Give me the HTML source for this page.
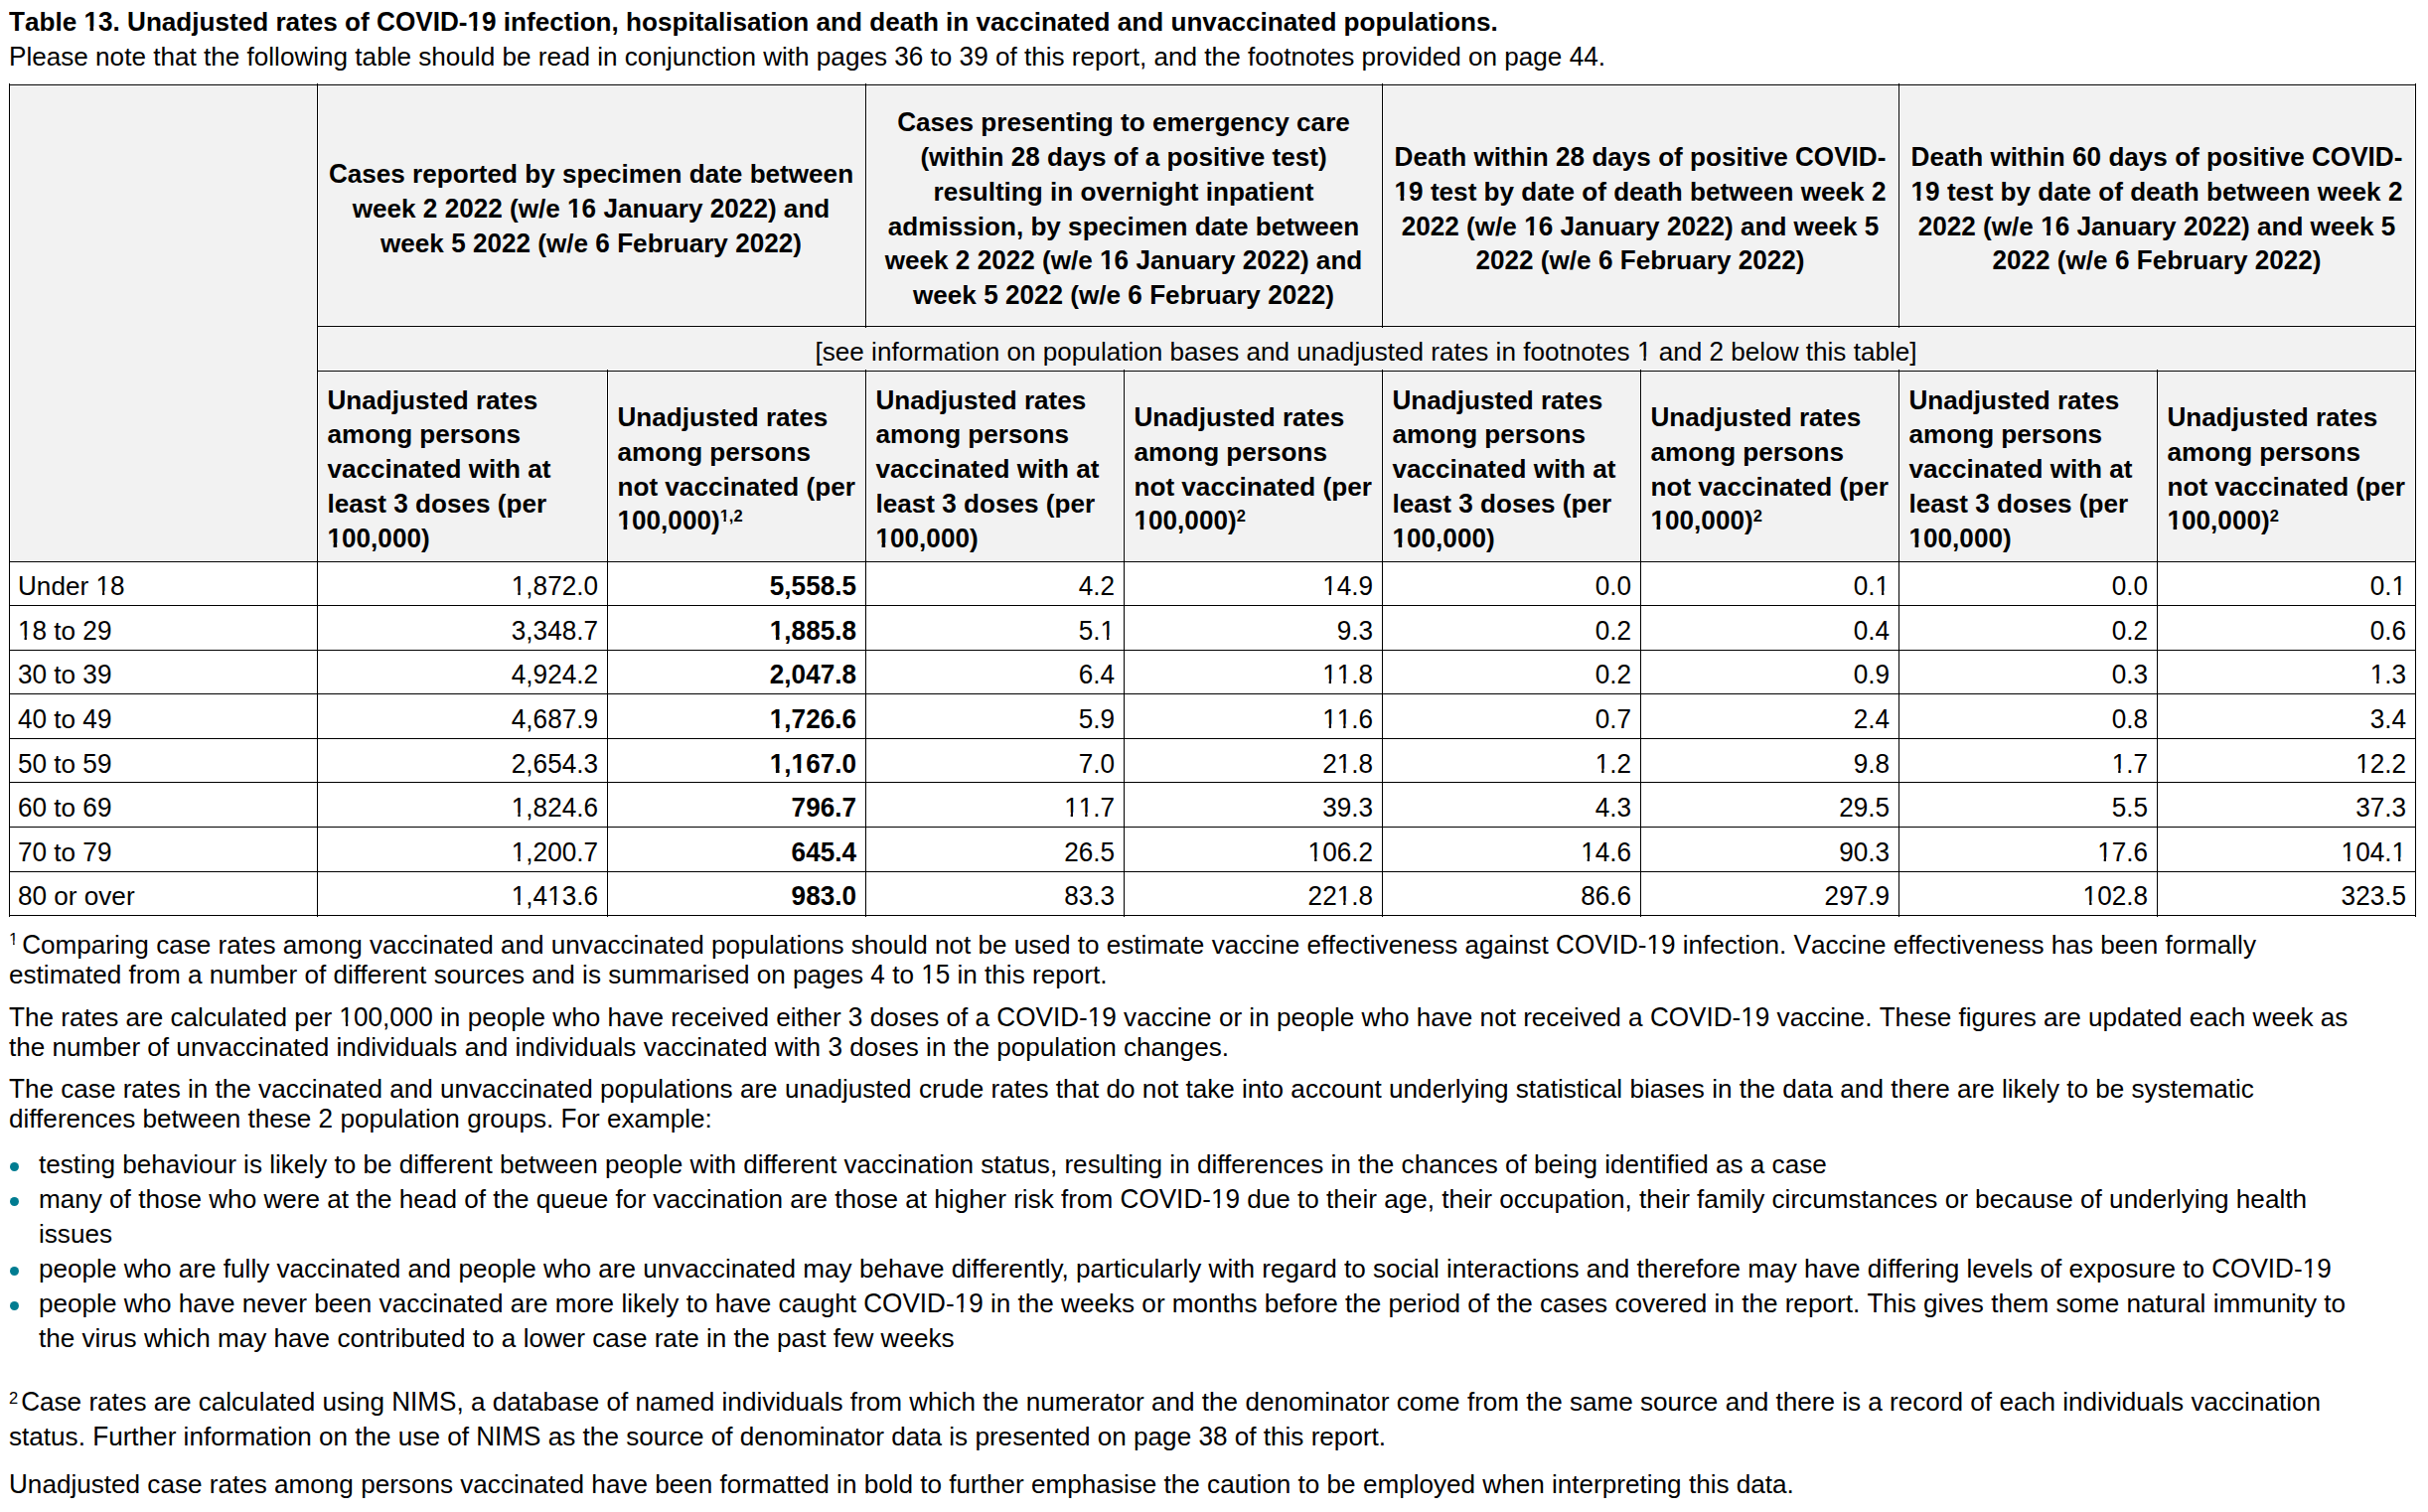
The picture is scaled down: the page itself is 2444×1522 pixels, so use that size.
<!DOCTYPE html>
<html><head><meta charset="utf-8"><title>Table 13</title><style>
html,body{margin:0;padding:0;background:#fff;overflow:hidden}
#p{position:relative;width:2444px;height:1522px;overflow:hidden;background:#fff}
.k{position:absolute;background:#000}
.g{position:absolute;background:#f2f2f2}
.t{position:absolute;font-family:"Liberation Sans",sans-serif;font-size:26.12px;line-height:30px;white-space:pre;color:#000}
.b{font-weight:bold}
.c{text-align:center}
.sp{font-size:16.5px;font-weight:bold;position:relative;top:-8px}
.fs{font-size:16.5px;position:relative;top:-9px;display:inline-block;width:13.2px}
.fs2{width:12.2px;top:-7px}
.u{display:inline-block;transform:scaleY(1.0405);transform-origin:0 calc(15px + 0.3465em)}
.o{clip-path:polygon(-0.2em -5px,1em -5px,1em calc(15px + 0.1915em),0.34em calc(15px + 0.1915em),0.34em 40px,0.251em 40px,0.251em calc(15px + 0.1915em),-0.2em calc(15px + 0.1915em))}
.b .o{clip-path:polygon(-0.2em -5px,1em -5px,1em calc(15px + 0.1815em),0.371em calc(15px + 0.1815em),0.371em 40px,0.233em 40px,0.233em calc(15px + 0.1815em),-0.2em calc(15px + 0.1815em))}
.fs .o{clip-path:polygon(-0.2em -5px,1em -5px,1em 17px,0.34em 17px,0.34em 40px,0.251em 40px,0.251em 17px,-0.2em 17px)}
.sp .o{clip-path:polygon(-0.2em -5px,1em -5px,1em 17px,0.371em 17px,0.371em 40px,0.233em 40px,0.233em 17px,-0.2em 17px)}
.dot{position:absolute;width:9.4px;height:9.4px;border-radius:50%;background:#007c91}
</style></head>
<body><div id="p">
<div class="t b" style="left:9px;top:7px"><span class="u">T</span>able <span class="u o">1</span><span class="u">3</span>. <span class="u">U</span>nadjusted rates of <span class="u">C</span><span class="u">O</span><span class="u">V</span><span class="u">I</span><span class="u">D</span>-<span class="u o">1</span><span class="u">9</span> infection, hospitalisation and death in vaccinated and unvaccinated populations.</div>
<div class="t n" style="left:9px;top:42px"><span class="u">P</span>lease note that the following table should be read in conjunction with pages <span class="u">3</span><span class="u">6</span> to <span class="u">3</span><span class="u">9</span> of this report, and the footnotes provided on page <span class="u">4</span><span class="u">4</span>.</div>
<div class="g" style="left:11px;top:87px;width:307px;height:477px"></div>
<div class="g" style="left:321px;top:87px;width:549px;height:240px"></div>
<div class="g" style="left:873px;top:87px;width:517px;height:240px"></div>
<div class="g" style="left:1393px;top:87px;width:517px;height:240px"></div>
<div class="g" style="left:1913px;top:87px;width:517px;height:240px"></div>
<div class="g" style="left:321px;top:330px;width:2109px;height:42px"></div>
<div class="g" style="left:321px;top:375px;width:289px;height:189px"></div>
<div class="g" style="left:613px;top:375px;width:257px;height:189px"></div>
<div class="g" style="left:873px;top:375px;width:257px;height:189px"></div>
<div class="g" style="left:1133px;top:375px;width:257px;height:189px"></div>
<div class="g" style="left:1393px;top:375px;width:257px;height:189px"></div>
<div class="g" style="left:1653px;top:375px;width:257px;height:189px"></div>
<div class="g" style="left:1913px;top:375px;width:257px;height:189px"></div>
<div class="g" style="left:2173px;top:375px;width:257px;height:189px"></div>
<div class="k" style="left:9px;top:85px;width:2423px;height:1px"></div>
<div class="k" style="left:319px;top:328px;width:2113px;height:1px"></div>
<div class="k" style="left:319px;top:373px;width:2113px;height:1px"></div>
<div class="k" style="left:9px;top:565px;width:2423px;height:1px"></div>
<div class="k" style="left:9px;top:609px;width:2423px;height:1px"></div>
<div class="k" style="left:9px;top:654px;width:2423px;height:1px"></div>
<div class="k" style="left:9px;top:698px;width:2423px;height:1px"></div>
<div class="k" style="left:9px;top:743px;width:2423px;height:1px"></div>
<div class="k" style="left:9px;top:787px;width:2423px;height:1px"></div>
<div class="k" style="left:9px;top:832px;width:2423px;height:1px"></div>
<div class="k" style="left:9px;top:877px;width:2423px;height:1px"></div>
<div class="k" style="left:9px;top:921px;width:2423px;height:1px"></div>
<div class="k" style="left:9px;top:84px;width:1px;height:839px"></div>
<div class="k" style="left:319px;top:84px;width:1px;height:839px"></div>
<div class="k" style="left:2431px;top:84px;width:1px;height:839px"></div>
<div class="k" style="left:871px;top:84px;width:1px;height:246px"></div>
<div class="k" style="left:1391px;top:84px;width:1px;height:246px"></div>
<div class="k" style="left:1911px;top:84px;width:1px;height:246px"></div>
<div class="k" style="left:611px;top:372px;width:1px;height:551px"></div>
<div class="k" style="left:871px;top:372px;width:1px;height:551px"></div>
<div class="k" style="left:1131px;top:372px;width:1px;height:551px"></div>
<div class="k" style="left:1391px;top:372px;width:1px;height:551px"></div>
<div class="k" style="left:1651px;top:372px;width:1px;height:551px"></div>
<div class="k" style="left:1911px;top:372px;width:1px;height:551px"></div>
<div class="k" style="left:2171px;top:372px;width:1px;height:551px"></div>
<div class="t b c" style="left:319px;top:160px;width:552px"><span class="u">C</span>ases reported by specimen date between</div>
<div class="t b c" style="left:319px;top:195px;width:552px">week <span class="u">2</span> <span class="u">2</span><span class="u">0</span><span class="u">2</span><span class="u">2</span> (w/e <span class="u o">1</span><span class="u">6</span> <span class="u">J</span>anuary <span class="u">2</span><span class="u">0</span><span class="u">2</span><span class="u">2</span>) and</div>
<div class="t b c" style="left:319px;top:230px;width:552px">week <span class="u">5</span> <span class="u">2</span><span class="u">0</span><span class="u">2</span><span class="u">2</span> (w/e <span class="u">6</span> <span class="u">F</span>ebruary <span class="u">2</span><span class="u">0</span><span class="u">2</span><span class="u">2</span>)</div>
<div class="t b c" style="left:871px;top:108px;width:520px"><span class="u">C</span>ases presenting to emergency care</div>
<div class="t b c" style="left:871px;top:143px;width:520px">(within <span class="u">2</span><span class="u">8</span> days of a positive test)</div>
<div class="t b c" style="left:871px;top:178px;width:520px">resulting in overnight inpatient</div>
<div class="t b c" style="left:871px;top:213px;width:520px">admission, by specimen date between</div>
<div class="t b c" style="left:871px;top:247px;width:520px">week <span class="u">2</span> <span class="u">2</span><span class="u">0</span><span class="u">2</span><span class="u">2</span> (w/e <span class="u o">1</span><span class="u">6</span> <span class="u">J</span>anuary <span class="u">2</span><span class="u">0</span><span class="u">2</span><span class="u">2</span>) and</div>
<div class="t b c" style="left:871px;top:282px;width:520px">week <span class="u">5</span> <span class="u">2</span><span class="u">0</span><span class="u">2</span><span class="u">2</span> (w/e <span class="u">6</span> <span class="u">F</span>ebruary <span class="u">2</span><span class="u">0</span><span class="u">2</span><span class="u">2</span>)</div>
<div class="t b c" style="left:1391px;top:143px;width:520px"><span class="u">D</span>eath within <span class="u">2</span><span class="u">8</span> days of positive <span class="u">C</span><span class="u">O</span><span class="u">V</span><span class="u">I</span><span class="u">D</span>-</div>
<div class="t b c" style="left:1391px;top:178px;width:520px"><span class="u o">1</span><span class="u">9</span> test by date of death between week <span class="u">2</span></div>
<div class="t b c" style="left:1391px;top:213px;width:520px"><span class="u">2</span><span class="u">0</span><span class="u">2</span><span class="u">2</span> (w/e <span class="u o">1</span><span class="u">6</span> <span class="u">J</span>anuary <span class="u">2</span><span class="u">0</span><span class="u">2</span><span class="u">2</span>) and week <span class="u">5</span></div>
<div class="t b c" style="left:1391px;top:247px;width:520px"><span class="u">2</span><span class="u">0</span><span class="u">2</span><span class="u">2</span> (w/e <span class="u">6</span> <span class="u">F</span>ebruary <span class="u">2</span><span class="u">0</span><span class="u">2</span><span class="u">2</span>)</div>
<div class="t b c" style="left:1911px;top:143px;width:520px"><span class="u">D</span>eath within <span class="u">6</span><span class="u">0</span> days of positive <span class="u">C</span><span class="u">O</span><span class="u">V</span><span class="u">I</span><span class="u">D</span>-</div>
<div class="t b c" style="left:1911px;top:178px;width:520px"><span class="u o">1</span><span class="u">9</span> test by date of death between week <span class="u">2</span></div>
<div class="t b c" style="left:1911px;top:213px;width:520px"><span class="u">2</span><span class="u">0</span><span class="u">2</span><span class="u">2</span> (w/e <span class="u o">1</span><span class="u">6</span> <span class="u">J</span>anuary <span class="u">2</span><span class="u">0</span><span class="u">2</span><span class="u">2</span>) and week <span class="u">5</span></div>
<div class="t b c" style="left:1911px;top:247px;width:520px"><span class="u">2</span><span class="u">0</span><span class="u">2</span><span class="u">2</span> (w/e <span class="u">6</span> <span class="u">F</span>ebruary <span class="u">2</span><span class="u">0</span><span class="u">2</span><span class="u">2</span>)</div>
<div class="t n c" style="left:319px;top:339px;width:2112px">[see information on population bases and unadjusted rates in footnotes <span class="u o">1</span> and <span class="u">2</span> below this table]</div>
<div class="t b" style="left:329.5px;top:388px"><span class="u">U</span>nadjusted rates</div>
<div class="t b" style="left:329.5px;top:422px">among persons</div>
<div class="t b" style="left:329.5px;top:457px">vaccinated with at</div>
<div class="t b" style="left:329.5px;top:492px">least <span class="u">3</span> doses (per</div>
<div class="t b" style="left:329.5px;top:527px"><span class="u o">1</span><span class="u">0</span><span class="u">0</span>,<span class="u">0</span><span class="u">0</span><span class="u">0</span>)</div>
<div class="t b" style="left:881.5px;top:388px"><span class="u">U</span>nadjusted rates</div>
<div class="t b" style="left:881.5px;top:422px">among persons</div>
<div class="t b" style="left:881.5px;top:457px">vaccinated with at</div>
<div class="t b" style="left:881.5px;top:492px">least <span class="u">3</span> doses (per</div>
<div class="t b" style="left:881.5px;top:527px"><span class="u o">1</span><span class="u">0</span><span class="u">0</span>,<span class="u">0</span><span class="u">0</span><span class="u">0</span>)</div>
<div class="t b" style="left:1401.5px;top:388px"><span class="u">U</span>nadjusted rates</div>
<div class="t b" style="left:1401.5px;top:422px">among persons</div>
<div class="t b" style="left:1401.5px;top:457px">vaccinated with at</div>
<div class="t b" style="left:1401.5px;top:492px">least <span class="u">3</span> doses (per</div>
<div class="t b" style="left:1401.5px;top:527px"><span class="u o">1</span><span class="u">0</span><span class="u">0</span>,<span class="u">0</span><span class="u">0</span><span class="u">0</span>)</div>
<div class="t b" style="left:1921.5px;top:388px"><span class="u">U</span>nadjusted rates</div>
<div class="t b" style="left:1921.5px;top:422px">among persons</div>
<div class="t b" style="left:1921.5px;top:457px">vaccinated with at</div>
<div class="t b" style="left:1921.5px;top:492px">least <span class="u">3</span> doses (per</div>
<div class="t b" style="left:1921.5px;top:527px"><span class="u o">1</span><span class="u">0</span><span class="u">0</span>,<span class="u">0</span><span class="u">0</span><span class="u">0</span>)</div>
<div class="t b" style="left:621.5px;top:405px"><span class="u">U</span>nadjusted rates</div>
<div class="t b" style="left:621.5px;top:440px">among persons</div>
<div class="t b" style="left:621.5px;top:475px">not vaccinated (per</div>
<div class="t b" style="left:621.5px;top:509px"><span class="u o">1</span><span class="u">0</span><span class="u">0</span>,<span class="u">0</span><span class="u">0</span><span class="u">0</span>)<span class="sp"><span class="u o">1</span>,<span class="u">2</span></span></div>
<div class="t b" style="left:1141.5px;top:405px"><span class="u">U</span>nadjusted rates</div>
<div class="t b" style="left:1141.5px;top:440px">among persons</div>
<div class="t b" style="left:1141.5px;top:475px">not vaccinated (per</div>
<div class="t b" style="left:1141.5px;top:509px"><span class="u o">1</span><span class="u">0</span><span class="u">0</span>,<span class="u">0</span><span class="u">0</span><span class="u">0</span>)<span class="sp"><span class="u">2</span></span></div>
<div class="t b" style="left:1661.5px;top:405px"><span class="u">U</span>nadjusted rates</div>
<div class="t b" style="left:1661.5px;top:440px">among persons</div>
<div class="t b" style="left:1661.5px;top:475px">not vaccinated (per</div>
<div class="t b" style="left:1661.5px;top:509px"><span class="u o">1</span><span class="u">0</span><span class="u">0</span>,<span class="u">0</span><span class="u">0</span><span class="u">0</span>)<span class="sp"><span class="u">2</span></span></div>
<div class="t b" style="left:2181.5px;top:405px"><span class="u">U</span>nadjusted rates</div>
<div class="t b" style="left:2181.5px;top:440px">among persons</div>
<div class="t b" style="left:2181.5px;top:475px">not vaccinated (per</div>
<div class="t b" style="left:2181.5px;top:509px"><span class="u o">1</span><span class="u">0</span><span class="u">0</span>,<span class="u">0</span><span class="u">0</span><span class="u">0</span>)<span class="sp"><span class="u">2</span></span></div>
<div class="t n" style="left:18px;top:575px"><span class="u">U</span>nder <span class="u o">1</span><span class="u">8</span></div>
<div class="t n r" style="right:1842px;top:575px"><span class="u o">1</span>,<span class="u">8</span><span class="u">7</span><span class="u">2</span>.<span class="u">0</span></div>
<div class="t b r" style="right:1582px;top:575px"><span class="u">5</span>,<span class="u">5</span><span class="u">5</span><span class="u">8</span>.<span class="u">5</span></div>
<div class="t n r" style="right:1322px;top:575px"><span class="u">4</span>.<span class="u">2</span></div>
<div class="t n r" style="right:1062px;top:575px"><span class="u o">1</span><span class="u">4</span>.<span class="u">9</span></div>
<div class="t n r" style="right:802px;top:575px"><span class="u">0</span>.<span class="u">0</span></div>
<div class="t n r" style="right:542px;top:575px"><span class="u">0</span>.<span class="u o">1</span></div>
<div class="t n r" style="right:282px;top:575px"><span class="u">0</span>.<span class="u">0</span></div>
<div class="t n r" style="right:22px;top:575px"><span class="u">0</span>.<span class="u o">1</span></div>
<div class="t n" style="left:18px;top:620px"><span class="u o">1</span><span class="u">8</span> to <span class="u">2</span><span class="u">9</span></div>
<div class="t n r" style="right:1842px;top:620px"><span class="u">3</span>,<span class="u">3</span><span class="u">4</span><span class="u">8</span>.<span class="u">7</span></div>
<div class="t b r" style="right:1582px;top:620px"><span class="u o">1</span>,<span class="u">8</span><span class="u">8</span><span class="u">5</span>.<span class="u">8</span></div>
<div class="t n r" style="right:1322px;top:620px"><span class="u">5</span>.<span class="u o">1</span></div>
<div class="t n r" style="right:1062px;top:620px"><span class="u">9</span>.<span class="u">3</span></div>
<div class="t n r" style="right:802px;top:620px"><span class="u">0</span>.<span class="u">2</span></div>
<div class="t n r" style="right:542px;top:620px"><span class="u">0</span>.<span class="u">4</span></div>
<div class="t n r" style="right:282px;top:620px"><span class="u">0</span>.<span class="u">2</span></div>
<div class="t n r" style="right:22px;top:620px"><span class="u">0</span>.<span class="u">6</span></div>
<div class="t n" style="left:18px;top:664px"><span class="u">3</span><span class="u">0</span> to <span class="u">3</span><span class="u">9</span></div>
<div class="t n r" style="right:1842px;top:664px"><span class="u">4</span>,<span class="u">9</span><span class="u">2</span><span class="u">4</span>.<span class="u">2</span></div>
<div class="t b r" style="right:1582px;top:664px"><span class="u">2</span>,<span class="u">0</span><span class="u">4</span><span class="u">7</span>.<span class="u">8</span></div>
<div class="t n r" style="right:1322px;top:664px"><span class="u">6</span>.<span class="u">4</span></div>
<div class="t n r" style="right:1062px;top:664px"><span class="u o">1</span><span class="u o">1</span>.<span class="u">8</span></div>
<div class="t n r" style="right:802px;top:664px"><span class="u">0</span>.<span class="u">2</span></div>
<div class="t n r" style="right:542px;top:664px"><span class="u">0</span>.<span class="u">9</span></div>
<div class="t n r" style="right:282px;top:664px"><span class="u">0</span>.<span class="u">3</span></div>
<div class="t n r" style="right:22px;top:664px"><span class="u o">1</span>.<span class="u">3</span></div>
<div class="t n" style="left:18px;top:709px"><span class="u">4</span><span class="u">0</span> to <span class="u">4</span><span class="u">9</span></div>
<div class="t n r" style="right:1842px;top:709px"><span class="u">4</span>,<span class="u">6</span><span class="u">8</span><span class="u">7</span>.<span class="u">9</span></div>
<div class="t b r" style="right:1582px;top:709px"><span class="u o">1</span>,<span class="u">7</span><span class="u">2</span><span class="u">6</span>.<span class="u">6</span></div>
<div class="t n r" style="right:1322px;top:709px"><span class="u">5</span>.<span class="u">9</span></div>
<div class="t n r" style="right:1062px;top:709px"><span class="u o">1</span><span class="u o">1</span>.<span class="u">6</span></div>
<div class="t n r" style="right:802px;top:709px"><span class="u">0</span>.<span class="u">7</span></div>
<div class="t n r" style="right:542px;top:709px"><span class="u">2</span>.<span class="u">4</span></div>
<div class="t n r" style="right:282px;top:709px"><span class="u">0</span>.<span class="u">8</span></div>
<div class="t n r" style="right:22px;top:709px"><span class="u">3</span>.<span class="u">4</span></div>
<div class="t n" style="left:18px;top:754px"><span class="u">5</span><span class="u">0</span> to <span class="u">5</span><span class="u">9</span></div>
<div class="t n r" style="right:1842px;top:754px"><span class="u">2</span>,<span class="u">6</span><span class="u">5</span><span class="u">4</span>.<span class="u">3</span></div>
<div class="t b r" style="right:1582px;top:754px"><span class="u o">1</span>,<span class="u o">1</span><span class="u">6</span><span class="u">7</span>.<span class="u">0</span></div>
<div class="t n r" style="right:1322px;top:754px"><span class="u">7</span>.<span class="u">0</span></div>
<div class="t n r" style="right:1062px;top:754px"><span class="u">2</span><span class="u o">1</span>.<span class="u">8</span></div>
<div class="t n r" style="right:802px;top:754px"><span class="u o">1</span>.<span class="u">2</span></div>
<div class="t n r" style="right:542px;top:754px"><span class="u">9</span>.<span class="u">8</span></div>
<div class="t n r" style="right:282px;top:754px"><span class="u o">1</span>.<span class="u">7</span></div>
<div class="t n r" style="right:22px;top:754px"><span class="u o">1</span><span class="u">2</span>.<span class="u">2</span></div>
<div class="t n" style="left:18px;top:798px"><span class="u">6</span><span class="u">0</span> to <span class="u">6</span><span class="u">9</span></div>
<div class="t n r" style="right:1842px;top:798px"><span class="u o">1</span>,<span class="u">8</span><span class="u">2</span><span class="u">4</span>.<span class="u">6</span></div>
<div class="t b r" style="right:1582px;top:798px"><span class="u">7</span><span class="u">9</span><span class="u">6</span>.<span class="u">7</span></div>
<div class="t n r" style="right:1322px;top:798px"><span class="u o">1</span><span class="u o">1</span>.<span class="u">7</span></div>
<div class="t n r" style="right:1062px;top:798px"><span class="u">3</span><span class="u">9</span>.<span class="u">3</span></div>
<div class="t n r" style="right:802px;top:798px"><span class="u">4</span>.<span class="u">3</span></div>
<div class="t n r" style="right:542px;top:798px"><span class="u">2</span><span class="u">9</span>.<span class="u">5</span></div>
<div class="t n r" style="right:282px;top:798px"><span class="u">5</span>.<span class="u">5</span></div>
<div class="t n r" style="right:22px;top:798px"><span class="u">3</span><span class="u">7</span>.<span class="u">3</span></div>
<div class="t n" style="left:18px;top:843px"><span class="u">7</span><span class="u">0</span> to <span class="u">7</span><span class="u">9</span></div>
<div class="t n r" style="right:1842px;top:843px"><span class="u o">1</span>,<span class="u">2</span><span class="u">0</span><span class="u">0</span>.<span class="u">7</span></div>
<div class="t b r" style="right:1582px;top:843px"><span class="u">6</span><span class="u">4</span><span class="u">5</span>.<span class="u">4</span></div>
<div class="t n r" style="right:1322px;top:843px"><span class="u">2</span><span class="u">6</span>.<span class="u">5</span></div>
<div class="t n r" style="right:1062px;top:843px"><span class="u o">1</span><span class="u">0</span><span class="u">6</span>.<span class="u">2</span></div>
<div class="t n r" style="right:802px;top:843px"><span class="u o">1</span><span class="u">4</span>.<span class="u">6</span></div>
<div class="t n r" style="right:542px;top:843px"><span class="u">9</span><span class="u">0</span>.<span class="u">3</span></div>
<div class="t n r" style="right:282px;top:843px"><span class="u o">1</span><span class="u">7</span>.<span class="u">6</span></div>
<div class="t n r" style="right:22px;top:843px"><span class="u o">1</span><span class="u">0</span><span class="u">4</span>.<span class="u o">1</span></div>
<div class="t n" style="left:18px;top:887px"><span class="u">8</span><span class="u">0</span> or over</div>
<div class="t n r" style="right:1842px;top:887px"><span class="u o">1</span>,<span class="u">4</span><span class="u o">1</span><span class="u">3</span>.<span class="u">6</span></div>
<div class="t b r" style="right:1582px;top:887px"><span class="u">9</span><span class="u">8</span><span class="u">3</span>.<span class="u">0</span></div>
<div class="t n r" style="right:1322px;top:887px"><span class="u">8</span><span class="u">3</span>.<span class="u">3</span></div>
<div class="t n r" style="right:1062px;top:887px"><span class="u">2</span><span class="u">2</span><span class="u o">1</span>.<span class="u">8</span></div>
<div class="t n r" style="right:802px;top:887px"><span class="u">8</span><span class="u">6</span>.<span class="u">6</span></div>
<div class="t n r" style="right:542px;top:887px"><span class="u">2</span><span class="u">9</span><span class="u">7</span>.<span class="u">9</span></div>
<div class="t n r" style="right:282px;top:887px"><span class="u o">1</span><span class="u">0</span><span class="u">2</span>.<span class="u">8</span></div>
<div class="t n r" style="right:22px;top:887px"><span class="u">3</span><span class="u">2</span><span class="u">3</span>.<span class="u">5</span></div>
<div class="t n" style="left:9px;top:936px"><span class="fs"><span class="u o">1</span> </span><span class="u">C</span>omparing case rates among vaccinated and unvaccinated populations should not be used to estimate vaccine effectiveness against <span class="u">C</span><span class="u">O</span><span class="u">V</span><span class="u">I</span><span class="u">D</span>-<span class="u o">1</span><span class="u">9</span> infection. <span class="u">V</span>accine effectiveness has been formally</div>
<div class="t n" style="left:9px;top:966px">estimated from a number of different sources and is summarised on pages <span class="u">4</span> to <span class="u o">1</span><span class="u">5</span> in this report.</div>
<div class="t n" style="left:9px;top:1009px"><span class="u">T</span>he rates are calculated per <span class="u o">1</span><span class="u">0</span><span class="u">0</span>,<span class="u">0</span><span class="u">0</span><span class="u">0</span> in people who have received either <span class="u">3</span> doses of a <span class="u">C</span><span class="u">O</span><span class="u">V</span><span class="u">I</span><span class="u">D</span>-<span class="u o">1</span><span class="u">9</span> vaccine or in people who have not received a <span class="u">C</span><span class="u">O</span><span class="u">V</span><span class="u">I</span><span class="u">D</span>-<span class="u o">1</span><span class="u">9</span> vaccine. <span class="u">T</span>hese figures are updated each week as</div>
<div class="t n" style="left:9px;top:1039px">the number of unvaccinated individuals and individuals vaccinated with <span class="u">3</span> doses in the population changes.</div>
<div class="t n" style="left:9px;top:1081px"><span class="u">T</span>he case rates in the vaccinated and unvaccinated populations are unadjusted crude rates that do not take into account underlying statistical biases in the data and there are likely to be systematic</div>
<div class="t n" style="left:9px;top:1111px">differences between these <span class="u">2</span> population groups. <span class="u">F</span>or example:</div>
<div class="t n" style="left:39px;top:1157px">testing behaviour is likely to be different between people with different vaccination status, resulting in differences in the chances of being identified as a case</div>
<div class="dot" style="left:10px;top:1170px"></div>
<div class="t n" style="left:39px;top:1192px">many of those who were at the head of the queue for vaccination are those at higher risk from <span class="u">C</span><span class="u">O</span><span class="u">V</span><span class="u">I</span><span class="u">D</span>-<span class="u o">1</span><span class="u">9</span> due to their age, their occupation, their family circumstances or because of underlying health</div>
<div class="dot" style="left:10px;top:1205px"></div>
<div class="t n" style="left:39px;top:1227px">issues</div>
<div class="t n" style="left:39px;top:1262px">people who are fully vaccinated and people who are unvaccinated may behave differently, particularly with regard to social interactions and therefore may have differing levels of exposure to <span class="u">C</span><span class="u">O</span><span class="u">V</span><span class="u">I</span><span class="u">D</span>-<span class="u o">1</span><span class="u">9</span></div>
<div class="dot" style="left:10px;top:1275px"></div>
<div class="t n" style="left:39px;top:1297px">people who have never been vaccinated are more likely to have caught <span class="u">C</span><span class="u">O</span><span class="u">V</span><span class="u">I</span><span class="u">D</span>-<span class="u o">1</span><span class="u">9</span> in the weeks or months before the period of the cases covered in the report. <span class="u">T</span>his gives them some natural immunity to</div>
<div class="dot" style="left:10px;top:1310px"></div>
<div class="t n" style="left:39px;top:1332px">the virus which may have contributed to a lower case rate in the past few weeks</div>
<div class="t n" style="left:9px;top:1396px"><span class="fs fs2"><span class="u">2</span> </span><span class="u">C</span>ase rates are calculated using <span class="u">N</span><span class="u">I</span><span class="u">M</span><span class="u">S</span>, a database of named individuals from which the numerator and the denominator come from the same source and there is a record of each individuals vaccination</div>
<div class="t n" style="left:9px;top:1431px">status. <span class="u">F</span>urther information on the use of <span class="u">N</span><span class="u">I</span><span class="u">M</span><span class="u">S</span> as the source of denominator data is presented on page <span class="u">3</span><span class="u">8</span> of this report.</div>
<div class="t n" style="left:9px;top:1479px"><span class="u">U</span>nadjusted case rates among persons vaccinated have been formatted in bold to further emphasise the caution to be employed when interpreting this data.</div>
</div></body></html>
